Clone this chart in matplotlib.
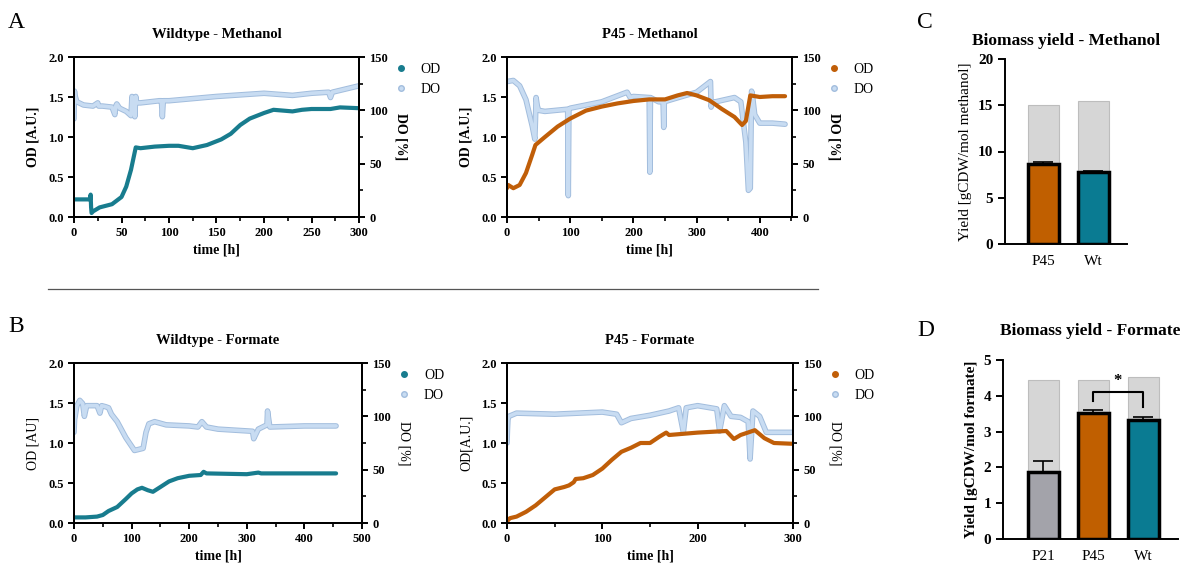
import matplotlib.pyplot as plt
import matplotlib.patheffects as pe
from matplotlib.lines import Line2D
from matplotlib.ticker import MultipleLocator

plt.rcParams['font.family'] = ['Liberation Serif', 'DejaVu Serif']

# ---- A: Wildtype - Methanol ----
wt_meoh_od_t = [0, 17, 17.5, 18, 18.5, 20, 27, 40, 50, 55, 60, 65, 70, 85, 100, 110, 125, 140,
                155, 165, 175, 185, 200, 210, 220, 230, 240, 250, 270, 280, 300]
wt_meoh_od = [0.22, 0.22, 0.28, 0.12, 0.05, 0.07, 0.12, 0.16, 0.25, 0.38, 0.59, 0.87, 0.86, 0.88,
              0.89, 0.89, 0.86, 0.90, 0.97, 1.04, 1.15, 1.23, 1.30, 1.34, 1.33, 1.32, 1.34, 1.35,
              1.35, 1.37, 1.36]
wt_meoh_do_t = [0, 0.5, 1, 3, 10, 20, 25, 26, 30, 40, 43, 44, 45, 48, 55, 60, 61, 63, 64, 65, 66,
                70, 90, 92, 93, 94, 100, 150, 200, 230, 250, 268, 270, 272, 300]
wt_meoh_do = [92, 118, 114, 108, 105, 104, 107, 104, 104, 103, 96, 104, 106, 102, 99, 95, 113, 108,
              94, 113, 107, 107, 109, 109, 94, 109, 109, 113, 116, 114, 116, 117, 112, 117, 123]

# ---- P45 - Methanol ----
p45_meoh_od_t = [0, 2, 10, 20, 30, 40, 45, 60, 80, 100, 125, 150, 175, 200, 225, 250, 270, 285,
                 300, 320, 340, 360, 372, 378, 385, 400, 420, 440]
p45_meoh_od = [0.36, 0.40, 0.36, 0.40, 0.55, 0.78, 0.90, 1.00, 1.13, 1.23, 1.33, 1.38, 1.42, 1.45,
               1.47, 1.47, 1.52, 1.55, 1.52, 1.46, 1.35, 1.25, 1.15, 1.20, 1.52, 1.50, 1.51, 1.51]
p45_meoh_do_t = [0, 10, 20, 30, 40, 44, 45, 46, 48, 50, 60, 95, 96, 97, 98, 100, 150, 190, 195,
                 200, 225, 226, 227, 240, 247, 248, 249, 260, 300, 322, 323, 325, 330, 360, 370,
                 378, 382, 385, 387, 388, 392, 400, 420, 440]
p45_meoh_do = [127, 128, 123, 110, 85, 73, 90, 112, 104, 100, 99, 101, 101, 20, 101, 102, 108, 117,
               112, 113, 112, 42, 112, 108, 108, 84, 108, 110, 117, 127, 103, 108, 108, 112, 108,
               70, 25, 27, 118, 116, 96, 88, 88, 87]

# ---- B: Wildtype - Formate ----
wt_form_od_t = [0, 20, 40, 50, 60, 75, 90, 100, 110, 118, 128, 137, 150, 165, 180, 200, 220, 225,
                230, 300, 320, 325, 400, 455]
wt_form_od = [0.07, 0.07, 0.08, 0.10, 0.15, 0.20, 0.30, 0.37, 0.42, 0.44, 0.41, 0.39, 0.45, 0.52,
              0.56, 0.59, 0.60, 0.64, 0.62, 0.61, 0.63, 0.62, 0.62, 0.62]
wt_form_do_t = [0, 1, 2, 5, 10, 15, 18, 22, 40, 45, 48, 55, 60, 65, 75, 90, 105, 120, 125, 130,
                140, 160, 200, 215, 222, 230, 250, 310, 312, 320, 335, 336, 340, 400, 455]
wt_form_do = [85, 97, 100, 110, 115, 112, 100, 110, 110, 103, 110, 109, 108, 102, 95, 80, 68, 70,
              85, 93, 95, 92, 91, 90, 95, 90, 88, 86, 79, 88, 92, 105, 90, 91, 91]

# ---- P45 - Formate ----
p45_form_od_t = [0, 3, 10, 20, 30, 40, 50, 60, 65, 70, 72, 80, 90, 100, 110, 120, 130, 140, 150,
                 160, 167, 170, 200, 230, 238, 245, 260, 270, 280, 300]
p45_form_od = [0.02, 0.06, 0.08, 0.14, 0.22, 0.32, 0.42, 0.45, 0.47, 0.51, 0.55, 0.56, 0.60, 0.68,
               0.79, 0.89, 0.94, 1.00, 1.00, 1.08, 1.13, 1.10, 1.13, 1.15, 1.05, 1.10, 1.16, 1.06,
               1.00, 0.99]
p45_form_do_t = [0, 0.5, 1, 2, 10, 50, 100, 115, 120, 130, 150, 170, 180, 185, 188, 200, 220, 223,
                 228, 235, 245, 253, 255, 258, 265, 272, 300]
p45_form_do = [75, 88, 97, 100, 103, 102, 104, 102, 94, 98, 101, 105, 108, 85, 108, 110, 107, 86,
               110, 100, 99, 95, 60, 105, 100, 85, 85]

# ---- C / D: biomass yield ----
meoh_strains = ['P45', 'Wt']
meoh_theor = [15.0, 15.5]
meoh_yield = [8.68, 7.75]
meoh_err = [0.15, 0.15]

form_strains = ['P21', 'P45', 'Wt']
form_theor = [4.44, 4.44, 4.52]
form_yield = [1.87, 3.51, 3.33]
form_err = [0.31, 0.09, 0.09]

teal = '#187C8E'
orange = '#C05E08'
do_fill = '#C8DCF2'
do_edge = '#A2BDDD'
bar_cols_meoh = ['#C05F00', '#0A7B92']
bar_cols_form = ['#A3A3AA', '#C05F00', '#0A7B92']

W, H = 1184, 563
fig = plt.figure(figsize=(W / 100, H / 100), dpi=100)


def box(l, t, r, b):
    return [l / W, 1 - b / H, (r - l) / W, (b - t) / H]


def growth(rect, title, t_od, od, t_do, do, col, xmax, xmaj, xmin, ylab, ybold, lx):
    ax = fig.add_axes(rect)
    ax2 = ax.twinx()
    ax2.plot(t_do, do, color=do_fill, lw=2.6, solid_joinstyle='round', solid_capstyle='round',
             path_effects=[pe.Stroke(linewidth=4, foreground=do_edge), pe.Normal()], zorder=2)
    ax2.set_ylim(0, 150)
    ax2.yaxis.set_major_locator(MultipleLocator(50))
    ax2.yaxis.set_minor_locator(MultipleLocator(25))
    ax2.set_ylabel('DO [%]', rotation=270, labelpad=14, fontsize=10,
                   fontweight='bold' if ybold else 'normal')
    ax.set_zorder(ax2.get_zorder() + 1)
    ax.patch.set_visible(False)
    ax.plot(t_od, od, color=col, lw=3, solid_capstyle='round', solid_joinstyle='round')
    ax.set_xlim(0, xmax)
    ax.set_ylim(0, 2.0)
    ax.xaxis.set_major_locator(MultipleLocator(xmaj))
    ax.xaxis.set_minor_locator(MultipleLocator(xmin))
    ax.yaxis.set_major_locator(MultipleLocator(0.5))
    ax.yaxis.set_major_formatter(lambda v, p: f'{v:.1f}')
    ax.set_ylabel(ylab, fontsize=10, fontweight='bold' if ybold else 'normal', labelpad=6)
    ax.set_xlabel('time [h]', fontsize=10, fontweight='bold', labelpad=3)
    ax.set_title(title, fontsize=10.5, fontweight='bold', pad=14)
    for a in (ax, ax2):
        for s in a.spines.values():
            s.set_linewidth(1.4)
        a.tick_params(which='major', length=4, width=1.4, labelsize=9)
        a.tick_params(which='minor', length=3, width=1.2)
        for lab in a.get_xticklabels() + a.get_yticklabels():
            lab.set_fontweight('bold')
    handles = [Line2D([], [], ls='none', marker='o', ms=4, mfc=col, mec=col),
               Line2D([], [], ls='none', marker='o', ms=4, mfc=do_fill, mec=do_edge)]
    ax.legend(handles, ['OD', 'DO'], loc='upper left', bbox_to_anchor=(lx, 1.04), frameon=False,
              fontsize=10, handletextpad=0.9, labelspacing=0.5, handlelength=1)
    return ax


growth(box(74, 57, 359, 217), 'Wildtype - Methanol', wt_meoh_od_t, wt_meoh_od, wt_meoh_do_t,
       wt_meoh_do, teal, 300, 50, 25, 'OD [A.U.]', True, 1.08)
growth(box(507, 57, 792, 217), 'P45 - Methanol', p45_meoh_od_t, p45_meoh_od, p45_meoh_do_t,
       p45_meoh_do, orange, 451, 100, 50, 'OD [A.U.]', True, 1.08)
growth(box(74, 363, 362, 523), 'Wildtype - Formate', wt_form_od_t, wt_form_od, wt_form_do_t,
       wt_form_do, teal, 500, 100, 50, 'OD [AU]', False, 1.08)
growth(box(507, 363, 793, 523), 'P45 - Formate', p45_form_od_t, p45_form_od, p45_form_do_t,
       p45_form_do, orange, 300, 100, 50, 'OD[A.U.]', False, 1.08)


def yields(rect, title, names, theor, vals, errs, cols, ymax, ylab, ybold, xlim, tpad):
    ax = fig.add_axes(rect)
    x = range(len(names))
    ax.bar(x, theor, width=0.62, color='#D6D6D6', edgecolor='#BDBDBD', lw=0.8, zorder=1)
    ax.errorbar(x, vals, yerr=[[0] * len(errs), errs], fmt='none', ecolor='black', elinewidth=1.2,
                capsize=7, capthick=1.2, zorder=2)
    ax.bar(x, vals, width=0.62, color=cols, edgecolor='black', lw=2.5, zorder=3)
    ax.set_xlim(*xlim)
    ax.set_ylim(0, ymax)
    ax.set_xticks(list(x))
    ax.set_xticklabels(names, fontsize=11)
    ax.set_title(title, fontsize=12.5, fontweight='bold', pad=tpad)
    ax.set_ylabel(ylab, fontsize=11, fontweight='bold' if ybold else 'normal')
    for s in ['top', 'right']:
        ax.spines[s].set_visible(False)
    for s in ['left', 'bottom']:
        ax.spines[s].set_linewidth(1.4)
    ax.tick_params(axis='y', length=5, width=1.4, labelsize=11)
    ax.tick_params(axis='x', length=0, pad=8)
    for lab in ax.get_yticklabels():
        lab.set_fontweight('bold')
    return ax


yields(box(1005, 59, 1127, 244), 'Biomass yield - Methanol', meoh_strains, meoh_theor, meoh_yield,
       meoh_err, bar_cols_meoh, 20, 'Yield [gCDW/mol methanol]', False, (-0.76, 1.68), 10)
axd = yields(box(1003, 360, 1178, 539), 'Biomass yield - Formate', form_strains, form_theor,
             form_yield, form_err, bar_cols_form, 5, 'Yield [gCDW/mol formate]', True, (-0.8, 2.7),
             18)
axd.yaxis.set_major_locator(MultipleLocator(1))
for lab in axd.get_yticklabels():
    lab.set_fontweight('bold')
axd.plot([1, 1, 2, 2], [3.86, 4.12, 4.12, 3.68], color='black', lw=1.5, zorder=4)
axd.text(1.5, 4.18, '*', ha='center', va='bottom', fontsize=12, fontweight='bold')

# panel letters and separator
for letter, (px, py) in zip('ABCD', [(8, 22), (8, 327), (917, 22), (917, 330)]):
    fig.text(px / W, 1 - py / H, letter, fontsize=17, va='center', ha='left')
fig.add_artist(Line2D([48 / W, 818 / W], [1 - 289 / H, 1 - 289 / H], color='#555555', lw=0.9))

fig.savefig('out.png', dpi=100)
